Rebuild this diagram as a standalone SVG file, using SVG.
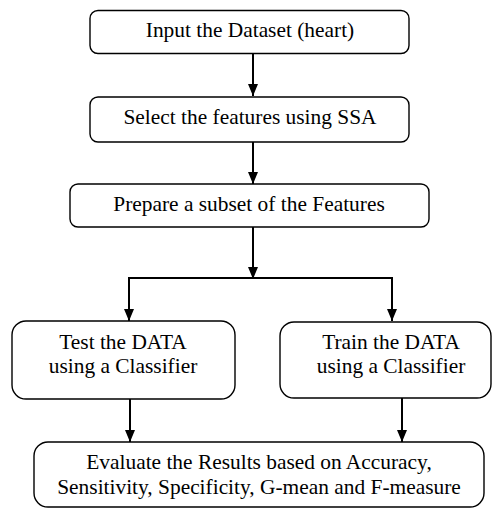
<svg xmlns="http://www.w3.org/2000/svg" width="493" height="510" viewBox="0 0 493 510">
<defs>
<marker id="ah" markerWidth="12" markerHeight="10" refX="12" refY="5" orient="auto" markerUnits="userSpaceOnUse">
<path d="M0,0 L12,5 L0,10 Z" fill="#000"/>
</marker>
<style>
.box{fill:#fff;stroke:#000;stroke-width:1.4}
.t{font-family:"Liberation Serif","Times New Roman",serif;font-size:21.4px;fill:#000;text-anchor:middle}
.c{fill:none;stroke:#000;stroke-width:2}
</style>
</defs>
<rect width="493" height="510" fill="#fff"/>
<g id="connectors">
<line class="c" x1="253" y1="53" x2="253" y2="96" marker-end="url(#ah)"/>
<line class="c" x1="253" y1="142" x2="253" y2="184" marker-end="url(#ah)"/>
<line class="c" x1="253" y1="227" x2="253" y2="279" marker-end="url(#ah)"/>
<polyline class="c" points="129,312 129,278 392,278 392,312"/>
<line class="c" x1="129" y1="278" x2="129" y2="321" marker-end="url(#ah)"/>
<line class="c" x1="392" y1="278" x2="392" y2="321" marker-end="url(#ah)"/>
<line class="c" x1="130" y1="399" x2="130" y2="442" marker-end="url(#ah)"/>
<line class="c" x1="402" y1="398" x2="402" y2="442" marker-end="url(#ah)"/>
</g>
<g id="n1">
<rect class="box" x="90" y="10.5" width="319" height="43" rx="8"/>
<text class="t" x="250" y="37">Input the Dataset (heart)</text>
</g>
<g id="n2">
<rect class="box" x="90" y="97" width="319" height="45" rx="8"/>
<text class="t" x="250" y="124">Select the features using SSA</text>
</g>
<g id="n3">
<rect class="box" x="70" y="184" width="359" height="43" rx="8"/>
<text class="t" x="249" y="211">Prepare a subset of the Features</text>
</g>
<g id="n4">
<rect class="box" x="12" y="321" width="223" height="78" rx="14"/>
<text class="t" x="123" y="349">Test the DATA</text>
<text class="t" x="123" y="373">using a Classifier</text>
</g>
<g id="n5">
<rect class="box" x="280" y="322" width="211" height="76" rx="14"/>
<text class="t" x="391" y="349">Train the DATA</text>
<text class="t" x="391" y="373">using a Classifier</text>
</g>
<g id="n6">
<rect class="box" x="34" y="442" width="450" height="65" rx="14"/>
<text class="t" x="259" y="469">Evaluate the Results based on Accuracy,</text>
<text class="t" x="259" y="494">Sensitivity, Specificity, G-mean and F-measure</text>
</g>
</svg>
